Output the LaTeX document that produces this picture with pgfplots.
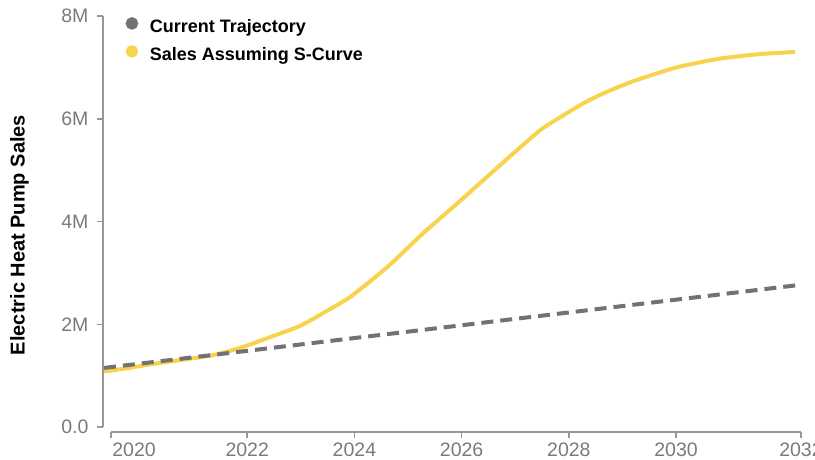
\documentclass[border=0pt]{standalone}
\usepackage{pgfplots}
\pgfplotsset{compat=1.18}
\usepackage{fontspec}
\setmainfont{Liberation Sans}

\definecolor{scurve}{HTML}{F8D34E}
\definecolor{trend}{HTML}{727272}
\definecolor{axisgray}{HTML}{979797}
\definecolor{labelgray}{HTML}{7A7A7A}

\begin{document}
\begin{tikzpicture}
\begin{axis}[
    scale only axis,
    width=698pt, height=411pt,
    xmin=2019.31, xmax=2032.33,
    ymin=0, ymax=8,
    axis x line*=bottom,
    axis y line*=left,
    axis x line shift=5pt,
    axis line style={axisgray, line width=1.5pt},
    x axis line style={shorten <=8pt},
    tick align=outside,
    major tick length=6pt,
    tick style={axisgray, line width=1.5pt},
    xtick={2019.46,2022,2024,2026,2028,2030,2032.33},
    xticklabels={,2022,2024,2026,2028,2030,2032},
    extra x ticks={2019.89},
    extra x tick labels={2020},
    extra x tick style={major tick length=0pt, xticklabel style={yshift=-6pt}},
    ytick={0,2,4,6,8},
    yticklabels={0.0,2M,4M,6M,8M},
    /pgf/number format/assume math mode=true,
    ticklabel style={labelgray, font=\fontsize{19.5}{22}\selectfont},
    xticklabel style={yshift=-1pt},
    yticklabel style={xshift=-5pt},
    ylabel={Electric Heat Pump Sales},
    ylabel style={at={(rel axis cs:-0.1196,0.467)}, anchor=center,
        font=\bfseries\fontsize{20}{24}\selectfont},
    legend image code/.code={\fill[solid] (0pt,0.35em) circle (4.2pt); \path (-4.2pt,0pt) (14pt,0pt);},
    reverse legend,
    legend style={draw=none, fill=none, at={(rel axis cs:0.028,1.0)}, yshift=1pt,
        anchor=north west, font=\bfseries\fontsize{18}{20}\selectfont,
        row sep=9pt, legend cell align=left},
]
\addplot[color=scurve, line width=4pt, line join=round, smooth, tension=0.35] coordinates {
    (2019.33,1.08) (2019.80,1.15) (2020.19,1.22) (2020.80,1.31)
    (2021.37,1.40) (2021.87,1.54) (2022.43,1.75) (2022.99,1.97)
    (2023.42,2.22) (2023.92,2.53) (2024.61,3.11) (2025.28,3.77)
    (2025.84,4.28) (2026.40,4.80) (2026.72,5.10) (2027.10,5.45)
    (2027.52,5.82) (2028.27,6.30) (2028.70,6.52) (2029.20,6.73)
    (2029.94,6.98) (2030.45,7.10) (2030.88,7.18) (2031.57,7.26)
    (2032.22,7.30)
};
\addlegendentry{Sales Assuming S-Curve}
\addplot[color=trend, line width=4pt, dash pattern=on 12pt off 7pt] coordinates {
    (2019.33,1.15) (2032.26,2.76)
};
\addlegendentry{Current Trajectory}
\end{axis}
\pgfresetboundingbox
\path[use as bounding box] (-103pt,-32pt) rectangle (712pt,427pt);
\end{tikzpicture}
\end{document}
